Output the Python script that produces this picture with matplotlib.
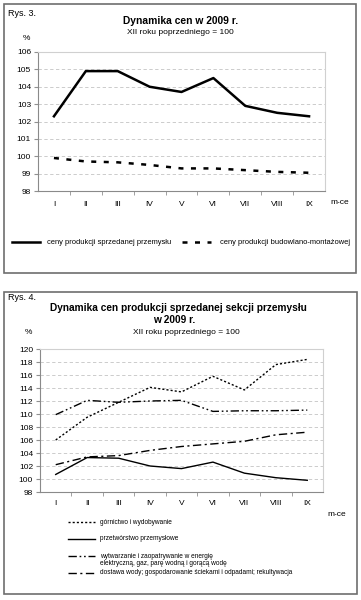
import matplotlib
matplotlib.use('Agg')
import matplotlib.pyplot as plt
from matplotlib.patches import Rectangle
from matplotlib.lines import Line2D

plt.rcParams['font.family'] = ['Liberation Sans', 'DejaVu Sans']

months = ['I', 'II', 'III', 'IV', 'V', 'VI', 'VII', 'VIII', 'IX']

# Rys. 3
przemysl = [102.3, 104.9, 104.9, 104.0, 103.7, 104.5, 102.9, 102.5, 102.3]
budowlana = [99.9, 99.7, 99.65, 99.5, 99.3, 99.3, 99.2, 99.1, 99.05]
labels3 = ['ceny produkcji sprzedanej przemysłu',
           'ceny produkcji budowlano-montażowej']

# Rys. 4
gornictwo = [106.0, 109.5, 111.8, 114.1, 113.4, 115.8, 113.7, 117.6, 118.4]
przetworstwo = [100.7, 103.3, 103.2, 102.0, 101.6, 102.6, 100.9, 100.2, 99.8]
energia = [109.9, 112.1, 111.8, 112.0, 112.1, 110.4, 110.5, 110.5, 110.6]
woda = [102.2, 103.4, 103.6, 104.4, 105.0, 105.4, 105.8, 106.8, 107.2]
labels4 = ['górnictwo i wydobywanie',
           'przetwórstwo przemysłowe',
           'wytwarzanie i zaopatrywanie w energię\nelektryczną, gaz, parę wodną i gorącą wodę',
           'dostawa wody; gospodarowanie ściekami i odpadami; rekultywacja']

# line styles
ls_dash3 = (0, (2, 3))
ls4 = ['-', '-', '-', '-']
ls4[0] = (0, (1.5, 1.5))
ls4[2] = (0, (6, 2, 1.2, 2, 1.2, 2))
ls4[3] = (0, (6, 2.5, 1.5, 2.5))

W, H = 361, 600
fig = plt.figure(figsize=(W / 100, H / 100), dpi=100)


def fx(x):
    return x / W


def fy(y):
    return 1 - y / H


def axes_px(l, t, r, b):
    return fig.add_axes([fx(l), fy(b), (r - l) / W, (b - t) / H])


def style_axes(ax, ymin, ymax, step, pad):
    x = list(range(len(months)))
    ax.set_xlim(-0.5, len(months) - 0.5)
    ax.set_ylim(ymin, ymax)
    ax.set_yticks(range(ymin, ymax + 1, step))
    ax.set_xticks(x)
    ax.set_xticklabels(months)
    ax.set_xticks([i + 0.5 for i in x[:-1]], minor=True)
    ax.tick_params(axis='x', which='major', length=0, pad=pad, labelsize=6)
    ax.tick_params(axis='x', which='minor', length=3, color='#909090')
    ax.tick_params(axis='y', length=3, color='#909090', labelsize=6, pad=2)
    ax.yaxis.grid(True, linestyle=(0, (4, 3)), color='#c4c4c4', linewidth=0.6)
    ax.set_axisbelow(True)
    for s in ['left', 'bottom']:
        ax.spines[s].set_color('#8a8a8a')
        ax.spines[s].set_linewidth(0.8)
    for s in ['top', 'right']:
        ax.spines[s].set_color('#d0d0d0')
        ax.spines[s].set_linewidth(0.8)


def legend_entry(ls, lw, x0, x1, y, text, fontsize, tx):
    fig.add_artist(Line2D([fx(x0), fx(x1)], [fy(y), fy(y)],
                          transform=fig.transFigure, color='black',
                          linewidth=lw, linestyle=ls))
    for k, part in enumerate(text.split('\n')):
        fig.text(fx(tx), fy(y + k * 7.5), part, fontsize=fontsize,
                 ha='left', va='center')


# panel frames
for (l, t, r, b) in [(4, 4, 356, 273), (4, 292, 357, 594)]:
    fig.patches.append(Rectangle((fx(l), fy(b)), (r - l) / W, (b - t) / H,
                                 transform=fig.transFigure, fill=False,
                                 edgecolor='#6e6e6e', linewidth=1.2))

# ---------- Rys. 3 ----------
ax1 = axes_px(38, 52, 325, 191)
x = range(len(months))
ax1.plot(x, przemysl, color='black', linewidth=1.8)
ax1.plot(x, budowlana, color='black', linewidth=1.8, linestyle=ls_dash3)
style_axes(ax1, 98, 106, 1, 7)

fig.text(fx(8), fy(13), 'Rys. 3.', fontsize=6.5, va='center', ha='left')
fig.text(fx(181), fy(21), 'Dynamika cen w 2009 r.', fontsize=7.4, fontweight='bold',
         ha='center', va='center')
fig.text(fx(180), fy(33), 'XII roku poprzedniego = 100', fontsize=6,
         ha='center', va='center')
fig.text(fx(26), fy(39), '%', fontsize=6, ha='center', va='center')
fig.text(fx(340), fy(202), 'm-ce', fontsize=6, ha='center', va='center')

legend_entry('-', 1.8, 12, 40, 242, labels3[0], 5.4, 47)
legend_entry(ls_dash3, 1.8, 182, 211, 242, labels3[1], 5.4, 220)

# ---------- Rys. 4 ----------
ax2 = axes_px(40, 349, 323, 492)
for series, ls in zip([gornictwo, przetworstwo, energia, woda], ls4):
    ax2.plot(x, series, color='black', linewidth=1.0, linestyle=ls)
style_axes(ax2, 98, 120, 2, 6)

fig.text(fx(8), fy(297), 'Rys. 4.', fontsize=6.5, va='center', ha='left')
fig.text(fx(178), fy(308), 'Dynamika cen produkcji sprzedanej sekcji przemysłu',
         fontsize=7.3, fontweight='bold', ha='center', va='center')
fig.text(fx(174), fy(320), 'w 2009 r.', fontsize=7.3, fontweight='bold',
         ha='center', va='center')
fig.text(fx(186), fy(332), 'XII roku poprzedniego = 100', fontsize=6,
         ha='center', va='center')
fig.text(fx(28), fy(332), '%', fontsize=6, ha='center', va='center')
fig.text(fx(337), fy(515), 'm-ce', fontsize=6, ha='center', va='center')

for ls, yy, lab in zip(ls4, [522, 539, 556, 573], labels4):
    legend_entry(ls, 1.0, 68, 95, yy, lab, 4.7, 100)

fig.savefig('out.png', dpi=100, facecolor='white')
